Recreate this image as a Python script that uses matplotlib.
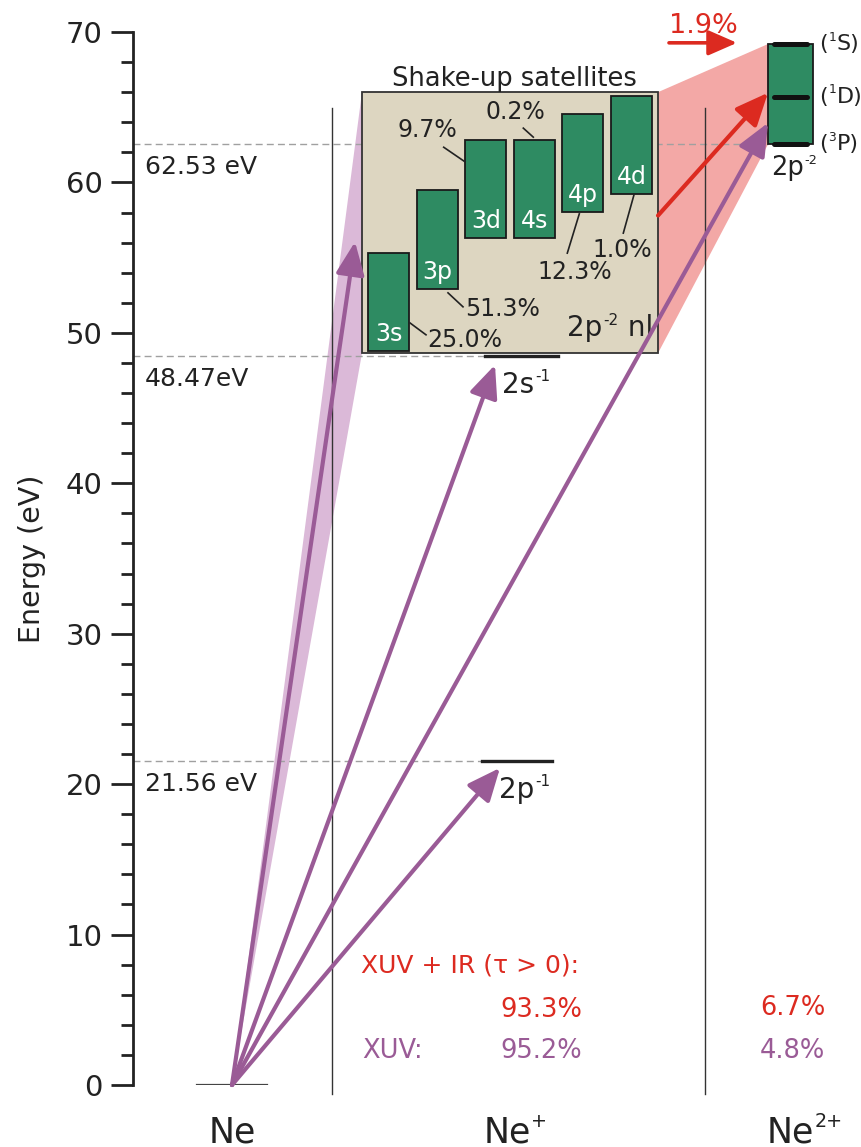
import matplotlib
matplotlib.use('Agg')
import matplotlib.pyplot as plt
from matplotlib.patches import Polygon, Rectangle
from matplotlib.ticker import MultipleLocator

# Ionisation thresholds (eV)
thresholds = [62.53, 48.47, 21.56]
threshold_labels = ['62.53 eV', '48.47eV', '21.56 eV']

# Ne+ single-hole states (label, superscript)
ne1_levels = [48.47, 21.56]
ne1_names = [('2s', '-1'), ('2p', '-1')]

# Shake-up satellites 2p^-2 nl (band bottom / top in eV) and their shares
sat_names = ['3s', '3p', '3d', '4s', '4p', '4d']
sat_bottom = [48.82, 52.91, 56.30, 56.30, 58.03, 59.24]
sat_top = [55.34, 59.51, 62.83, 62.83, 64.54, 65.76]
sat_share = ['25.0%', '51.3%', '9.7%', '0.2%', '12.3%', '1.0%']
sat_box = [48.65, 66.0]

# Ne2+ 2p^-2 terms (multiplicity, letter)
ne2_levels = [62.53, 65.70, 69.20]
ne2_terms = [('3', 'P)'), ('1', 'D)'), ('1', 'S)')]

# XUV excitation arrows: end energies (eV)
xuv_ends = [56.05, 47.87, 63.96, 21.08]
# IR driven satellite -> Ne2+ arrow (start, end energies)
ir_arrow = [57.8, 65.96]
ir_share = '1.9%'

# Yields
rows = ['XUV + IR (τ > 0):', 'XUV:']
yield_ne1 = ['93.3%', '95.2%']
yield_ne2 = ['6.7%', '4.8%']
species = [('Ne', ''), ('Ne', '+'), ('Ne', '2+')]

GREEN = '#2e8b62'
BEIGE = '#ddd6c1'
PURPLE = '#9a5b96'
RED = '#dc2a20'
DARK = '#222222'

plt.rcParams['font.family'] = ['DejaVu Sans']
fig = plt.figure(figsize=(8.62, 11.47), dpi=100)
ax = fig.add_axes([133 / 862, 62 / 1147, 729 / 862, 1053 / 1147])
ax.set_xlim(0, 729)
ax.set_ylim(0, 70)


def sup_text(x, y, base, sup, size, tail='', ha='left', color=DARK, sup_scale=0.55):
    """Text with a small superscript (and optional trailing text) after it"""
    t = ax.text(x, y, base, fontsize=size, color=color, ha=ha, va='baseline', clip_on=False)
    if not sup:
        return t
    s = ax.annotate(sup, xy=(1, 0.52), xycoords=t, xytext=(0.5, 0), textcoords='offset points',
                    fontsize=size * sup_scale, color=color, ha='left', va='bottom', annotation_clip=False)
    if tail:
        ax.annotate(tail, xy=(1, 0), xycoords=(s, t), xytext=(0.5, 0), textcoords='offset points',
                    fontsize=size, color=color, ha='left', va='bottom', annotation_clip=False)
    return t


# column positions (horizontal layout)
x_ne, x_ne1, x_ne2 = 99, 374, 657
x_sep = [199, 572]
box_x = [229, 525]
ne2_x = [635, 680]

# axis styling
for s in ['top', 'right', 'bottom']:
    ax.spines[s].set_visible(False)
ax.spines['left'].set_linewidth(2.0)
ax.spines['left'].set_color(DARK)
ax.set_xticks([])
ax.yaxis.set_major_locator(MultipleLocator(10))
ax.yaxis.set_minor_locator(MultipleLocator(2))
ax.tick_params(axis='y', which='major', length=16, width=2.0, pad=6, labelsize=21, color=DARK, labelcolor=DARK)
ax.tick_params(axis='y', which='minor', length=8.5, width=2.0, color=DARK)
ax.set_ylabel('Energy (eV)', fontsize=20.5, color=DARK, labelpad=14)

# shaded wedges
ax.add_patch(Polygon([[x_ne, 0], [box_x[0], sat_box[1]], [box_x[0], sat_box[0]]],
                     closed=True, facecolor='#dbb9d8', edgecolor='none', zorder=1))
ax.add_patch(Polygon([[box_x[1], sat_box[1]], [ne2_x[0], ne2_levels[2]],
                      [ne2_x[0], ne2_levels[0]], [box_x[1], sat_box[0]]],
                     closed=True, facecolor='#f3a8a6', edgecolor='none', zorder=1))

# threshold dashed lines and labels
dash_end = [ne2_x[0], 352, 349]
for e, lab, xe in zip(thresholds, threshold_labels, dash_end):
    ax.plot([0, xe], [e, e], color='#a0a0a0', lw=1.0, ls=(0, (5, 3)), zorder=2)
    ax.text(12, e - 2.0, lab, fontsize=18, color=DARK, ha='left', va='baseline')

# column separators
for xs in x_sep:
    ax.plot([xs, xs], [-0.6, 64.95], color='#333333', lw=1.0, zorder=2, clip_on=False)

# ground state
ax.plot([64, 134], [0, 0], color='#444444', lw=1.6, zorder=3)

# Ne+ levels
ne1_x = [[352, 425], [349, 419]]
for e, (name, sup), (xa, xb) in zip(ne1_levels, ne1_names, ne1_x):
    ax.plot([xa, xb], [e, e], color=DARK, lw=2.4, zorder=3)
    sup_text(xa + 17, e - 2.45, name, sup, 20)

# satellite box
ax.add_patch(Rectangle((box_x[0], sat_box[0]), box_x[1] - box_x[0], sat_box[1] - sat_box[0],
                       facecolor=BEIGE, edgecolor='#333333', lw=1.3, zorder=3))
ax.text((box_x[0] + box_x[1]) / 2 + 4, sat_box[1] + 0.38, 'Shake-up satellites',
        fontsize=18.5, color=DARK, ha='center', va='baseline')
sup_text(434, 49.76, '2p', '-2', 20, tail=' nl')

bar_x = [255.5 + 48.6 * i for i in range(len(sat_names))]
heights = [t - b for t, b in zip(sat_top, sat_bottom)]
ax.bar(bar_x, heights, width=41, bottom=sat_bottom, color=GREEN, edgecolor='#1a1a1a',
       linewidth=1.3, zorder=4)
for xb, b, name in zip(bar_x, sat_bottom, sat_names):
    ax.text(xb, b + 0.65, name, fontsize=17, color='white', ha='center', va='baseline', zorder=5)

# share labels with leader lines
share_pos = [(294, 49.5, 'left'), (332, 51.6, 'left'), (324, 63.5, 'right'),
             (382, 64.66, 'center'), (441.5, 54.02, 'center'), (489.5, 55.52, 'center')]
leaders = [((277, 50.66), (293, 49.87)), ((315, 52.66), (330, 51.73)),
           ((310.7, 62.34), (332, 61.37)), ((390.3, 63.61), (400.3, 63.01)),
           ((446.3, 57.91), (434.3, 55.30)), ((501, 59.18), (490.3, 56.63))]
for (xt, yt, ha), share, (p0, p1) in zip(share_pos, sat_share, leaders):
    ax.text(xt, yt, share, fontsize=17, color=DARK, ha=ha, va='center', zorder=5)
    ax.plot([p0[0], p1[0]], [p0[1], p1[1]], color=DARK, lw=1.2, zorder=5)

# Ne2+ box with terms
ax.add_patch(Rectangle((ne2_x[0], ne2_levels[0]), ne2_x[1] - ne2_x[0], ne2_levels[2] - ne2_levels[0],
                       facecolor=GREEN, edgecolor='#1a1a1a', lw=1.3, zorder=4))
for e, (mult, letter) in zip(ne2_levels, ne2_terms):
    ax.plot([641, 674], [e, e], color='#111111', lw=3.6, solid_capstyle='round', zorder=5)
    sup_text(686, e - 0.4, '(', mult, 16, tail=letter)
sup_text(638, 60.5, '2p', '-2', 18.5, sup_scale=0.5)

# arrows
astyle = '-|>,head_length=0.8,head_width=0.35'
xuv_x = [222, 362, ne2_x[0], 367]
for xe, ye in zip(xuv_x, xuv_ends):
    ax.annotate('', xy=(xe, ye), xytext=(x_ne, 0),
                arrowprops=dict(arrowstyle=astyle, color=PURPLE, lw=3, mutation_scale=25,
                                shrinkA=0, shrinkB=0), zorder=6)
ax.annotate('', xy=(ne2_x[0], ir_arrow[1]), xytext=(box_x[1], ir_arrow[0]),
            arrowprops=dict(arrowstyle=astyle, color=RED, lw=3, mutation_scale=25,
                            shrinkA=0, shrinkB=0), zorder=6)
ax.annotate('', xy=(604, 69.28), xytext=(536, 69.28), annotation_clip=False,
            arrowprops=dict(arrowstyle=astyle, color=RED, lw=2.6, mutation_scale=22,
                            shrinkA=0, shrinkB=0), zorder=6)
ax.text(570, 69.95, ir_share, fontsize=19.5, color=RED, ha='center', va='baseline', clip_on=False)

# yields
ax.text(228, 7.45, rows[0], fontsize=18, color=RED, ha='left', va='baseline')
ax.text(229, 1.8, rows[1], fontsize=18.5, color=PURPLE, ha='left', va='baseline')
ax.text(449, 4.55, yield_ne1[0], fontsize=18.5, color=RED, ha='right', va='baseline')
ax.text(449, 1.8, yield_ne1[1], fontsize=18.5, color=PURPLE, ha='right', va='baseline')
ax.text(627, 4.65, yield_ne2[0], fontsize=18.5, color=RED, ha='left', va='baseline')
ax.text(627, 1.8, yield_ne2[1], fontsize=18.5, color=PURPLE, ha='left', va='baseline')

# species labels
for xs, (name, sup) in zip([x_ne, x_ne1, x_ne2], species):
    sup_text(xs, -3.8, name, sup, 25, ha='center')

fig.savefig('out.png', dpi=100)
